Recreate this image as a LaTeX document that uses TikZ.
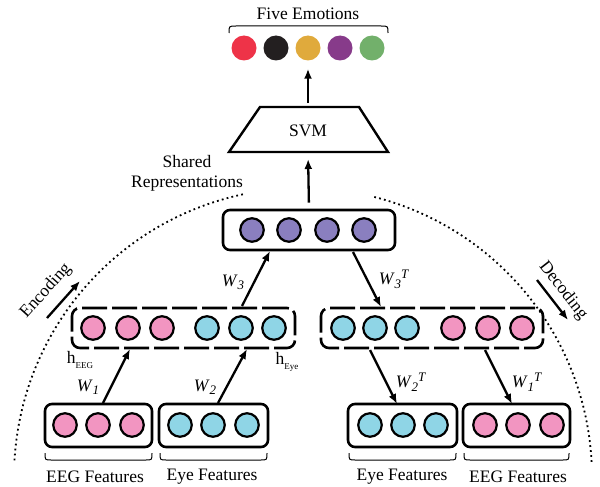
\documentclass[tikz,border=0pt]{standalone}
\usepackage{fontspec}
\setmainfont{Liberation Serif}
\usetikzlibrary{arrows.meta,calc}
\definecolor{cpink}{HTML}{F295C1}
\definecolor{cblue}{HTML}{8FD5E6}
\definecolor{cpurp}{HTML}{8A7FBF}
\definecolor{ered}{HTML}{EE3348}
\definecolor{eblack}{HTML}{231F20}
\definecolor{egold}{HTML}{E0AA3C}
\definecolor{epurp}{HTML}{873B8A}
\definecolor{egreen}{HTML}{72B06B}
\newcommand{\Wsub}[1]{\textit{W}\raisebox{-0.4ex}{\fontsize{13}{13}\selectfont\textit{#1}}}
\newcommand{\Tsup}{\raisebox{0.8ex}{\fontsize{13}{13}\selectfont\textit{T}}}
\newcommand{\hsub}[1]{h\raisebox{-0.6ex}{\fontsize{9}{9}\selectfont #1}}
\begin{document}
\begin{tikzpicture}[x=1pt,y=-1pt,
 txt/.style={font=\fontsize{17.5}{20}\selectfont, inner sep=0pt, align=center},
 neuron/.style={circle, draw=black, line width=2.2pt, minimum size=23.5pt, inner sep=0pt},
 emo/.style={circle, minimum size=25pt, inner sep=0pt},
 solidbox/.style={draw, line width=2.6pt, rounded corners=7pt, inner sep=0pt},
 dashbox/.style={draw, line width=2.6pt, rounded corners=8pt, dash pattern=on 25pt off 5pt, inner sep=0pt},
 arr/.style={line width=2.3pt, -{Latex[length=10pt,width=8pt]}},
 dotline/.style={line width=1.8pt, dash pattern=on 1.8pt off 3.2pt},
 brace/.style={line width=1pt},
]
\useasboundingbox (0,0) rectangle (600,487);

% top: emotions
\node[txt] (five) at (308,14) {Five Emotions};
\draw[brace] (229,33) .. controls (229,26) .. (236,26) -- (381,26) .. controls (388,26) .. (388,33);
\node[emo, fill=ered]   (em1) at (244,48) {};
\node[emo, fill=eblack] (em2) at (276,48) {};
\node[emo, fill=egold]  (em3) at (308,48) {};
\node[emo, fill=epurp]  (em4) at (340,48) {};
\node[emo, fill=egreen] (em5) at (372,48) {};

% SVM
\coordinate (svmtl) at (260,107);
\coordinate (svmtr) at (359,107);
\coordinate (svmbr) at (388,152);
\coordinate (svmbl) at (229,152);
\draw[line width=2.4pt, line join=miter] (svmtl) -- (svmtr) -- (svmbr) -- (svmbl) -- cycle;
\node[txt] (svm) at (308,131) {SVM};
\coordinate (svmtop) at (308,107);
\coordinate (svmbot) at (308,152);
\draw[arr, shorten <=4pt, shorten >=8pt] (svmtop) -- (em3);

% shared representation
\node[txt] (sharedlbl) at (187,173) {Shared\\Representations};
\node[solidbox, minimum width=172pt, minimum height=40pt] (shared) at (309,230) {};
\node[neuron, fill=cpurp] (s1) at (252,230) {};
\node[neuron, fill=cpurp] (s2) at (289,230) {};
\node[neuron, fill=cpurp] (s3) at (327,230) {};
\node[neuron, fill=cpurp] (s4) at (364,230) {};
\draw[arr, shorten <=6pt, shorten >=7pt] (shared.north) -- (svmbot);

% dotted arcs
\draw[dotline] plot[domain=102:177, samples=80] ({303+289*cos(\x)}, {477-289*sin(\x)});
\draw[dotline] plot[domain=3:76, samples=80] ({303+289*cos(\x)}, {477-289*sin(\x)});

% encoding / decoding
\node[txt, rotate=48] (enc) at (46,291) {Encoding};
\coordinate (enca) at (47,318);
\coordinate (encb) at (80,281);
\draw[arr] (enca) -- (encb);
\node[txt, rotate=-52] (dec) at (563,291) {Decoding};
\coordinate (deca) at (537,280);
\coordinate (decb) at (568,320);
\draw[arr] (deca) -- (decb);

% hidden left
\node[dashbox, minimum width=223pt, minimum height=40pt] (hL) at (183.5,328) {};
\node[neuron, fill=cpink] (hl1) at (93,328) {};
\node[neuron, fill=cpink] (hl2) at (128,328) {};
\node[neuron, fill=cpink] (hl3) at (162,328) {};
\node[neuron, fill=cblue] (hl4) at (207,328) {};
\node[neuron, fill=cblue] (hl5) at (241,328) {};
\node[neuron, fill=cblue] (hl6) at (274,328) {};
\node[txt] (heeg) at (80,360) {\hsub{EEG}};
\node[txt] (heye) at (287,362) {\hsub{Eye}};

% hidden right
\node[dashbox, minimum width=222pt, minimum height=40pt] (hR) at (432,328) {};
\node[neuron, fill=cblue] (hr1) at (343,328) {};
\node[neuron, fill=cblue] (hr2) at (375,328) {};
\node[neuron, fill=cblue] (hr3) at (407,328) {};
\node[neuron, fill=cpink] (hr4) at (453,328) {};
\node[neuron, fill=cpink] (hr5) at (488,328) {};
\node[neuron, fill=cpink] (hr6) at (522,328) {};

% bottom boxes left
\node[solidbox, minimum width=107pt, minimum height=43pt] (eegL) at (98.5,425.5) {};
\node[neuron, fill=cpink] (el1) at (65,425) {};
\node[neuron, fill=cpink] (el2) at (98,425) {};
\node[neuron, fill=cpink] (el3) at (132,425) {};
\node[solidbox, minimum width=109pt, minimum height=43pt] (eyeL) at (213.5,425.5) {};
\node[neuron, fill=cblue] (yl1) at (180,425) {};
\node[neuron, fill=cblue] (yl2) at (213,425) {};
\node[neuron, fill=cblue] (yl3) at (247,425) {};
% bottom boxes right
\node[solidbox, minimum width=109pt, minimum height=43pt] (eyeR) at (402.5,425.5) {};
\node[neuron, fill=cblue] (yr1) at (370,425) {};
\node[neuron, fill=cblue] (yr2) at (403,425) {};
\node[neuron, fill=cblue] (yr3) at (436,425) {};
\node[solidbox, minimum width=107pt, minimum height=43pt] (eegR) at (516.5,425.5) {};
\node[neuron, fill=cpink] (er1) at (485,425) {};
\node[neuron, fill=cpink] (er2) at (518,425) {};
\node[neuron, fill=cpink] (er3) at (552,425) {};

% braces and feature labels
\draw[brace] (45,453) .. controls (45,460) .. (51,460) -- (146,460) .. controls (152,460) .. (152,453);
\draw[brace] (160,453) .. controls (160,460) .. (166,460) -- (261,460) .. controls (267,460) .. (267,453);
\draw[brace] (349,453) .. controls (349,460) .. (355,460) -- (450,460) .. controls (456,460) .. (456,453);
\draw[brace] (464,453) .. controls (464,460) .. (470,460) -- (563,460) .. controls (569,460) .. (569,453);
\node[txt] (lEEGL) at (95,477) {EEG Features};
\node[txt] (lEyeL) at (212,477) {Eye Features};
\node[txt] (lEyeR) at (402,477) {Eye Features};
\node[txt] (lEEGR) at (518,477) {EEG Features};

% weight arrows
\coordinate (w1a) at (103,403);
\coordinate (w1b) at (130,349);
\coordinate (w2a) at (218,403);
\coordinate (w2b) at (247,349);
\coordinate (w3a) at (242,306);
\coordinate (w3b) at (270,251);
\coordinate (w3ta) at (353,252);
\coordinate (w3tb) at (381,307);
\coordinate (w2ta) at (370,350);
\coordinate (w2tb) at (397,404);
\coordinate (w1ta) at (485,350);
\coordinate (w1tb) at (512,404);
\draw[arr] (w1a) -- (w1b);
\draw[arr] (w2a) -- (w2b);
\draw[arr] (w3a) -- (w3b);
\draw[arr] (w3ta) -- (w3tb);
\draw[arr] (w2ta) -- (w2tb);
\draw[arr] (w1ta) -- (w1tb);
\node[txt] (lw1) at (88,387) {\Wsub{1}};
\node[txt] (lw2) at (205,387) {\Wsub{2}};
\node[txt] (lw3) at (233,282) {\Wsub{3}};
\node[txt] (lw3t) at (394,279) {\Wsub{3}\Tsup};
\node[txt] (lw2t) at (411,382) {\Wsub{2}\Tsup};
\node[txt] (lw1t) at (527,382) {\Wsub{1}\Tsup};
\end{tikzpicture}
\end{document}
